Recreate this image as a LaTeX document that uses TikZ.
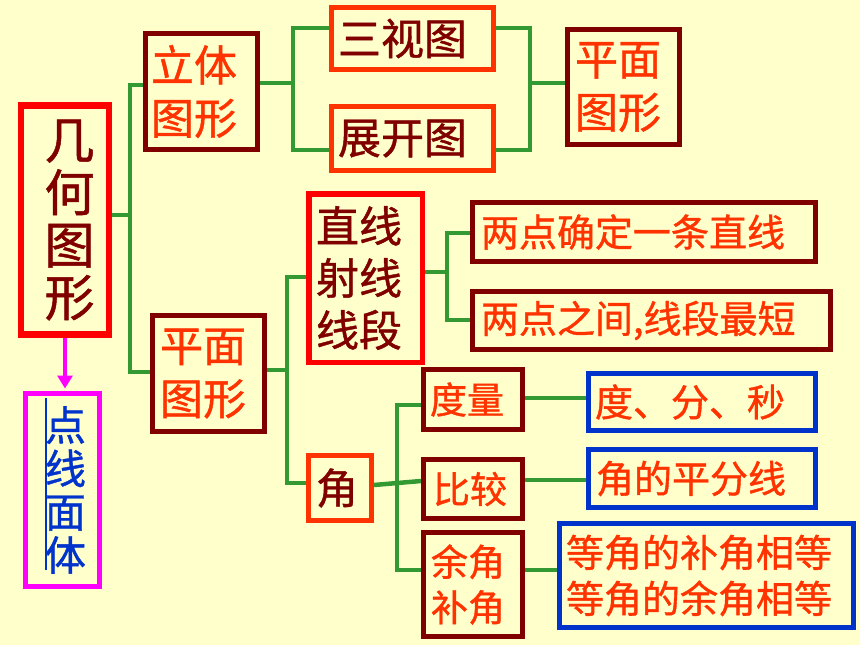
\documentclass[tikz,border=0pt]{standalone}
\usepackage{fontspec}
\newfontfamily\cjk[FakeBold=1]{Noto Sans CJK SC}
\usetikzlibrary{arrows.meta}
\definecolor{bgy}{HTML}{FFFFCC}
\definecolor{dred}{HTML}{800000}
\definecolor{ored}{HTML}{FF3300}
\definecolor{bred}{HTML}{FF0000}
\definecolor{lgreen}{HTML}{339933}
\definecolor{lblue}{HTML}{0033CC}
\definecolor{lmag}{HTML}{FF00FF}
\newcommand\fs[2]{\cjk\fontsize{#1}{#2}\selectfont}
\pgfdeclarelayer{back}
\pgfdeclarelayer{mid}
\pgfsetlayers{back,mid,main}
\begin{document}
\begin{tikzpicture}[x=1pt,y=-1pt,
  box/.style={draw, line width=5pt, inner sep=0pt, align=left, anchor=center},
  conn/.style={draw=lgreen, line width=4.5pt},
  arr/.style={draw=lmag, line width=4.5pt, -{Triangle[length=13pt,width=15pt]}}]
\begin{pgfonlayer}{back}
\fill[bgy] (0,0) rectangle (860,645);
\end{pgfonlayer}
\useasboundingbox (0,0) rectangle (860,645);

% left column
\node[box, draw=bred, text=dred, line width=6.5pt, minimum width=88pt, minimum height=229pt,
      text width=41pt, font=\fs{50}{52.5}] (jh) at (65,220) {几\\何\\图\\形};
\node[box, draw=lmag, text=lblue, minimum width=74pt, minimum height=193pt,
      text width=35pt, font=\fs{41}{43.3}] (dx) at (62.5,490) {点\\线\\面\\体};

% second column
\node[box, draw=dred, text=ored, minimum width=112pt, minimum height=116pt,
      text width=101pt, font=\fs{43}{53}] (lt) at (201.5,91.5) {立体\\图形};
\node[box, draw=dred, text=ored, minimum width=112pt, minimum height=116pt,
      text width=97pt, font=\fs{43}{53}] (pm) at (208.5,373.5) {平面\\图形};

% third column
\node[box, draw=ored, text=dred, minimum width=162pt, minimum height=62pt,
      text width=149pt, font=\fs{43}{53}] (sv) at (412.5,38.5) {三视图};
\node[box, draw=ored, text=dred, minimum width=162pt, minimum height=64pt,
      text width=149pt, font=\fs{43}{53}] (zk) at (412.5,138.5) {展开图};
\node[box, draw=bred, text=dred, line width=5.5pt, minimum width=113.5pt, minimum height=168.5pt,
      text width=99pt, font=\fs{43}{52}] (zx) at (365.5,278) {直线\\射线\\线段};
\node[box, draw=ored, text=dred, minimum width=63pt, minimum height=65pt,
      text width=48pt, font=\fs{42}{50}] (jiao) at (340,488) {角};

% fourth column
\node[box, draw=dred, text=ored, minimum width=112pt, minimum height=115pt,
      text width=97pt, font=\fs{43}{53}] (pt) at (623.5,87) {平面\\图形};
\node[box, draw=dred, text=ored, minimum width=343pt, minimum height=59pt,
      text width=326pt, font=\fs{38}{46}] (ld1) at (644,232) {两点确定一条直线};
\node[box, draw=dred, text=ored, minimum width=358pt, minimum height=58pt,
      text width=341pt, font=\fs{38}{46}] (ld2) at (651.5,320.5) {两点之间,线段最短};
\node[box, draw=dred, text=ored, minimum width=99pt, minimum height=60pt,
      text width=86pt, font=\fs{37}{45.5}] (dl) at (473,399.5) {度量};
\node[box, draw=dred, text=ored, minimum width=99pt, minimum height=59pt,
      text width=80pt, font=\fs{37}{45.5}] (bj) at (473,489) {比较};
\node[box, draw=dred, text=ored, minimum width=99pt, minimum height=104pt,
      text width=84pt, font=\fs{37}{45.5}] (yj) at (473,584.5) {余角\\补角};
\node[box, draw=lblue, text=ored, minimum width=227pt, minimum height=57pt,
      text width=214pt, font=\fs{38}{46}] (dfm) at (702,402) {度、分、秒};
\node[box, draw=lblue, text=ored, minimum width=227pt, minimum height=58pt,
      text width=212pt, font=\fs{38}{46}] (pfx) at (702,478.5) {角的平分线};
\node[box, draw=lblue, text=ored, minimum width=294pt, minimum height=104pt,
      text width=281pt, font=\fs{38}{46}] (dj) at (706.5,575.5) {等角的补角相等\\等角的余角相等};

% blue mark inside the 点线面体 box
\draw[lblue, line width=1.5pt] (46,398) -- (46,570);

% junction points
\coordinate (j1) at (130,215);
\coordinate (j2) at (293,83);
\coordinate (j3) at (530,83);
\coordinate (j4) at (287,370);
\coordinate (j5) at (447,272);
\coordinate (j6) at (397,484);

\begin{pgfonlayer}{mid}
\draw[conn] (jh.east |- j1) -- (j1);
\draw[conn] (lt.west |- 0,85) -| (j1) |- (pm.west |- 0,372);
\draw[conn] (lt.east |- j2) -- (j2);
\draw[conn] (sv.west |- 0,28) -| (j2) |- (zk.west |- 0,150);
\draw[conn] (sv.east |- 0,28) -| (j3) |- (zk.east |- 0,150);
\draw[conn] (j3) -- (pt.west |- j3);
\draw[conn] (pm.east |- j4) -- (j4);
\draw[conn] (zx.west |- 0,277) -| (j4) |- (jiao.west |- 0,483);
\draw[conn] (zx.east |- j5) -- (j5);
\draw[conn] (ld1.west |- 0,233) -| (j5) |- (ld2.west |- 0,320);
\draw[conn] (jiao.east |- 0,485) -- (bj.west |- 0,481);
\draw[conn] (dl.west |- 0,405) -| (j6) |- (yj.west |- 0,570);
\draw[conn] (dl.east |- 0,398) -- (dfm.west |- 0,398);
\draw[conn] (bj.east |- 0,480) -- (pfx.west |- 0,480);
\draw[conn] (yj.east |- 0,570) -- (dj.west |- 0,570);
\draw[arr, shorten >=2.5pt] (jh.south) -- (jh.south |- dx.north);
\end{pgfonlayer}
\end{tikzpicture}
\end{document}
